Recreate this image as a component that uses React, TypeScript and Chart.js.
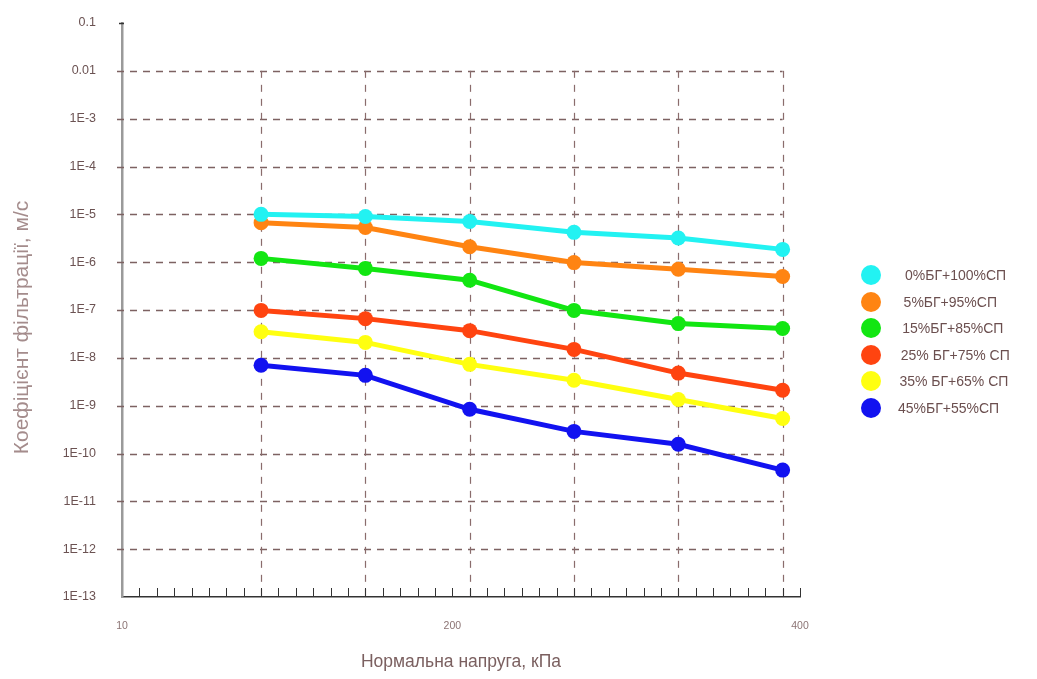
import React, { useEffect, useRef } from "react";
import { Chart, registerables } from "chart.js";

Chart.register(...registerables);

// Normal stress, kPa (x positions of measurements)
const PRESSURE = [90, 150, 210, 270, 330, 390];

const SERIES_LABELS = [
  "0%БГ+100%СП",
  "5%БГ+95%СП",
  "15%БГ+85%СП",
  "25% БГ+75% СП",
  "35% БГ+65% СП",
  "45%БГ+55%СП",
];
const SERIES_COLORS = ["#22f2f2", "#ff8412", "#12e612", "#ff4410", "#ffff10", "#1212f0"];

const S0 = [1.0e-5, 9.0e-6, 7.1e-6, 4.2e-6, 3.2e-6, 1.85e-6];
const S5 = [6.7e-6, 5.3e-6, 2.1e-6, 9.8e-7, 7.1e-7, 5.0e-7];
const S15 = [1.2e-6, 7.4e-7, 4.2e-7, 9.8e-8, 5.2e-8, 4.1e-8];
const S25 = [9.8e-8, 6.6e-8, 3.7e-8, 1.5e-8, 4.8e-9, 2.1e-9];
const S35 = [3.5e-8, 2.1e-8, 7.3e-9, 3.4e-9, 1.35e-9, 5.4e-10];
const S45 = [7.0e-9, 4.3e-9, 8.4e-10, 2.9e-10, 1.56e-10, 4.5e-11];
const SERIES = [S0, S5, S15, S25, S35, S45];

const Y_TICK_VALUES = [1e-13, 1e-12, 1e-11, 1e-10, 1e-9, 1e-8, 1e-7, 1e-6, 1e-5, 1e-4, 1e-3, 1e-2, 1e-1];
const Y_TICK_LABELS = ["1E-13", "1E-12", "1E-11", "1E-10", "1E-9", "1E-8", "1E-7", "1E-6", "1E-5", "1E-4", "1E-3", "0.01", "0.1"];
const Y_GRID_VALUES = [1e-12, 1e-11, 1e-10, 1e-9, 1e-8, 1e-7, 1e-6, 1e-5, 1e-4, 1e-3, 1e-2];

const X_TICK_VALUES = [10, 200, 400];
const X_TICK_LABELS = ["10", "200", "400"];
const X_MINOR_STEP = 10;

const refGrid = {
  id: "refGrid",
  beforeDatasetsDraw(chart: any) {
    const { ctx, chartArea, scales } = chart;
    const x = scales.x;
    const y = scales.y;
    ctx.save();
    ctx.strokeStyle = "#7d6262";
    ctx.lineWidth = 1.4;
    ctx.setLineDash([7, 6]);
    const xr = x.getPixelForValue(PRESSURE[PRESSURE.length - 1]);
    Y_GRID_VALUES.forEach((v) => {
      const py = Math.round(y.getPixelForValue(v)) + 0.5;
      ctx.beginPath();
      ctx.moveTo(chartArea.left - 5, py);
      ctx.lineTo(xr, py);
      ctx.stroke();
    });
    ctx.lineWidth = 1.2;
    ctx.strokeStyle = "#8a6c6c";
    ctx.setLineDash([7, 7]);
    const yt = y.getPixelForValue(Y_GRID_VALUES[Y_GRID_VALUES.length - 1]);
    PRESSURE.forEach((p) => {
      const px = Math.round(x.getPixelForValue(p)) + 0.5;
      ctx.beginPath();
      ctx.moveTo(px, yt);
      ctx.lineTo(px, chartArea.bottom);
      ctx.stroke();
    });
    ctx.restore();
  },
  afterDraw(chart: any) {
    const { ctx, chartArea, scales } = chart;
    const x = scales.x;
    ctx.save();
    ctx.strokeStyle = "#333";
    ctx.lineWidth = 1;
    for (let v = x.min + X_MINOR_STEP; v <= x.max + 0.001; v += X_MINOR_STEP) {
      const px = Math.round(x.getPixelForValue(v)) + 0.5;
      ctx.beginPath();
      ctx.moveTo(px, chartArea.bottom);
      ctx.lineTo(px, chartArea.bottom - 9);
      ctx.stroke();
    }
    // small tick at top of y axis
    ctx.lineWidth = 1.5;
    ctx.beginPath();
    ctx.moveTo(chartArea.left - 3, chartArea.top + 0.5);
    ctx.lineTo(chartArea.left + 2, chartArea.top + 0.5);
    ctx.stroke();
    ctx.restore();
  },
};

export default function App() {
  const ref = useRef<HTMLCanvasElement | null>(null);

  useEffect(() => {
    if (!ref.current) return;
    const chart = new Chart(ref.current, {
      type: "line",
      data: {
        datasets: SERIES.map((s, i) => ({
          label: SERIES_LABELS[i],
          data: s.map((v, j) => ({ x: PRESSURE[j], y: v })),
          borderColor: SERIES_COLORS[i],
          backgroundColor: SERIES_COLORS[i],
          borderWidth: 5,
          pointRadius: 7.5,
          pointBorderWidth: 0,
          tension: 0,
        })),
      },
      options: {
        responsive: false,
        animation: false,
        layout: { padding: { left: 0, right: 237, top: 23, bottom: 0 } },
        plugins: {
          legend: { display: false },
          tooltip: { enabled: false },
        },
        scales: {
          x: {
            type: "linear",
            min: 10,
            max: 400,
            afterBuildTicks: (scale: any) => {
              scale.ticks = X_TICK_VALUES.map((v) => ({ value: v }));
            },
            afterFit: (scale: any) => {
              scale.height = 82;
              scale.paddingLeft = 0;
              scale.paddingRight = 0;
            },
            grid: { display: false },
            border: { display: true, color: "#333", width: 1.5 },
            ticks: {
              autoSkip: false,
              maxRotation: 0,
              padding: 15,
              color: "#8c7474",
              font: { family: "Liberation Sans", size: 10.5 },
              callback: (_v: any, i: number) => X_TICK_LABELS[i],
            },
            title: {
              display: true,
              text: "Нормальна напруга, кПа",
              color: "#7b6060",
              font: { family: "Liberation Sans", size: 17.5 },
              padding: { top: 0, bottom: 6 },
            },
          },
          y: {
            type: "logarithmic",
            min: 1e-13,
            max: 0.1,
            afterBuildTicks: (scale: any) => {
              scale.ticks = Y_TICK_VALUES.map((v) => ({ value: v }));
            },
            afterFit: (scale: any) => {
              scale.width = 122;
              scale.paddingTop = 0;
              scale.paddingBottom = 0;
            },
            grid: { display: false },
            border: { display: true, color: "#9a9a9a", width: 2.5 },
            ticks: {
              autoSkip: false,
              padding: 18,
              color: "#6b5252",
              font: { family: "Liberation Sans", size: 12.5 },
              callback: (_v: any, i: number) => Y_TICK_LABELS[i],
            },
            title: {
              display: true,
              text: "Коефіцієнт фільтрації, м/с      ",
              color: "#a48c8c",
              font: { family: "Liberation Sans", size: 21 },
              padding: { top: 10, bottom: 0 },
            },
          },
        },
      },
      plugins: [refGrid],
    });
    return () => chart.destroy();
  }, []);

  return (
    <div style={{ position: "fixed", left: 0, top: 0, width: 1037, height: 679, background: "#fff" }}>
      <canvas ref={ref} width={1037} height={679} style={{ display: "block" }} />
      <div style={{ position: "absolute", left: 861, top: 264 }}>
        {SERIES_LABELS.map((l, i) => (
          <div key={l} style={{ position: "relative", height: 26.6, width: 170 }}>
            <span
              style={{
                position: "absolute",
                left: 0,
                top: 1,
                width: 20,
                height: 20,
                borderRadius: 10,
                background: SERIES_COLORS[i],
              }}
            />
            <span
              style={{
                position: "absolute",
                left: 44 - i * 1.4,
                top: 2,
                fontFamily: "Liberation Sans",
                fontSize: 14,
                color: "#6b4f4f",
                whiteSpace: "pre",
                lineHeight: "18px",
              }}
            >
              {l}
            </span>
          </div>
        ))}
      </div>
    </div>
  );
}
